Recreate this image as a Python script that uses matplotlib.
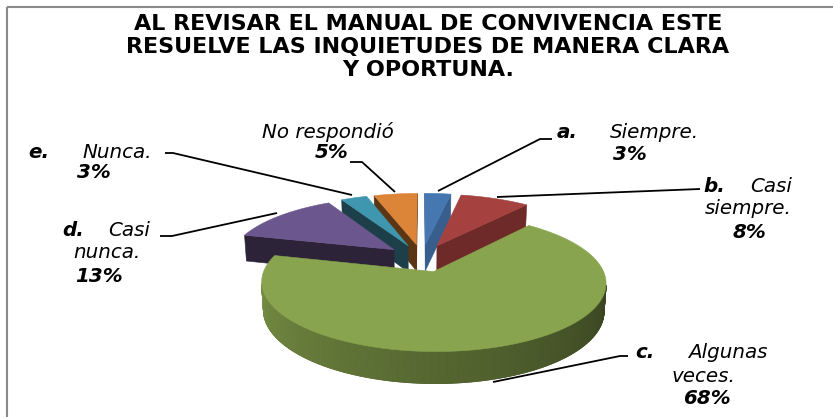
import numpy as np
import matplotlib
matplotlib.use("Agg")
import matplotlib.pyplot as plt
from matplotlib.patches import Polygon, Rectangle
from matplotlib.colors import to_rgb

# ---------------- data ----------------
letters = ["a.", "b.", "c.", "d.", "e.", ""]
names = ["Siempre.", "Casi siempre.", "Algunas veces.", "Casi nunca.", "Nunca.", "No respondió"]
values = [3, 8, 68, 13, 3, 5]
title = "AL REVISAR EL MANUAL DE CONVIVENCIA ESTE\nRESUELVE LAS INQUIETUDES DE MANERA CLARA\nY OPORTUNA."

# ---------------- style ----------------
top_colors = ["#4677b0", "#a5413e", "#88a44e", "#6c568e", "#3e97ae", "#dc8437"]
side_colors = ["#375e8d", "#6e2a28", "#55692f", "#2d2339", "#1d3f4a", "#5a3614"]

W, H = 833, 417
fig = plt.figure(figsize=(W / 100, H / 100), dpi=100)
ax = fig.add_axes([0, 0, 1, 1])
ax.set_xlim(0, W)
ax.set_ylim(H, 0)
ax.axis("off")

# frame
ax.add_patch(Rectangle((7, 7), 900, 500, fill=False, edgecolor="#8a8a8a", lw=1.5))

# ---------------- 3D pie projection ----------------
CX, CY = 422, 258
F = 987.0
PHI = np.radians(22.5)
S, C = np.sin(PHI), np.cos(PHI)
D0 = 6.0
HGT = 0.18
EXPL = 0.22
CAM = np.array([0.0, D0 * S, -D0 * C])


def proj(X, Y, Z):
    X = np.asarray(X, float); Y = np.asarray(Y, float); Z = np.asarray(Z, float)
    yc = Y * C + Z * S
    zc = D0 + Z * C - Y * S
    return CX + F * X / zc, CY - F * yc / zc


def poly(pts3, color, z=2, lw=0.4):
    pts3 = np.array(pts3)
    u, v = proj(pts3[:, 0], pts3[:, 1], pts3[:, 2])
    ax.add_patch(Polygon(np.column_stack([u, v]), closed=True, facecolor=color,
                         edgecolor=color, lw=lw, zorder=z))


def visible(normal, point):
    return np.dot(normal, CAM - np.asarray(point)) > 0


def shade(color, k):
    r, g, b = to_rgb(color)
    return (r * k, g * k, b * k)


total = float(sum(values))
bounds = np.concatenate([[0], np.cumsum(values)]) / total * 360.0
slices = []
for i in range(len(values)):
    t1, t2 = bounds[i], bounds[i + 1]
    mid = np.radians((t1 + t2) / 2)
    ex, ez = EXPL * np.sin(mid), EXPL * np.cos(mid)
    slices.append((ez, i, t1, t2, ex))

# draw far slices first
for ez, i, t1, t2, ex in sorted(slices, key=lambda s: -s[0]):
    th = np.radians(np.linspace(t1, t2, max(3, int((t2 - t1) * 2))))
    V = np.array([ex, 0, ez])
    # radial faces
    a1, a2 = np.radians(t1), np.radians(t2)
    for a, sgn in ((a1, -1), (a2, 1)):
        n = np.array([sgn * np.cos(a), 0, -sgn * np.sin(a)])
        if visible(n, V):
            o = np.array([ex + np.sin(a), 0, ez + np.cos(a)])
            poly([V, o, o + [0, -HGT, 0], V + [0, -HGT, 0]], side_colors[i])
    # outer wall
    quads = []
    for j in range(len(th) - 1):
        m = (th[j] + th[j + 1]) / 2
        n = np.array([np.sin(m), 0, np.cos(m)])
        p = np.array([ex + np.sin(m), 0, ez + np.cos(m)])
        if visible(n, p):
            deg = np.degrees(m) % 360
            k = 0.38 + np.clip((deg - 90) / 180.0, 0, 1) * 0.5
            pa = [ex + np.sin(th[j]), 0, ez + np.cos(th[j])]
            pb = [ex + np.sin(th[j + 1]), 0, ez + np.cos(th[j + 1])]
            quads.append((pa, pb, shade(top_colors[i], k)))
    if quads:
        # backing band to hide seams
        tops = [q[0] for q in quads] + [quads[-1][1]]
        band = tops + [[p[0], -HGT, p[2]] for p in tops[::-1]]
        poly(band, shade(top_colors[i], 0.6), z=1.9, lw=0.6)
        for pa, pb, col in quads:
            poly([pa, pb, [pb[0], -HGT, pb[2]], [pa[0], -HGT, pa[2]]], col, lw=0.9)
    # top face
    pts = [V] + [[ex + np.sin(t), 0, ez + np.cos(t)] for t in th]
    poly(pts, top_colors[i], z=3)

# ---------------- title ----------------
ax.text(428, 47, title, ha="center", va="center", fontsize=16, fontweight="bold",
        family="DejaVu Sans", linespacing=1.2, color="black")

# ---------------- labels ----------------
pct = [f"{v}%" for v in values]
label_layout = [
    ((557, 133), [((610, 133), "Siempre.")], (613, 155)),
    ((703, 186), [((750, 186), "Casi"), ((705, 208), "siempre.")], (733, 232)),
    ((635, 352), [((688, 352), "Algunas"), ((672, 377), "veces.")], (683, 398)),
    ((62, 230), [((108, 230), "Casi"), ((73, 253), "nunca.")], (75, 277)),
    ((28, 152), [((82, 152), "Nunca.")], (77, 172)),
    (None, [((262, 132), "No respondió")], (315, 152)),
]
FS = 14.3
for i, (lp, lines, pp) in enumerate(label_layout):
    if lp is not None and letters[i]:
        ax.text(lp[0], lp[1], letters[i], ha="left", va="center", fontsize=FS,
                fontweight="bold", style="italic", family="DejaVu Sans")
    for (x, y), s in lines:
        ax.text(x, y, s, ha="left", va="center", fontsize=FS, style="italic",
                family="DejaVu Sans")
    ax.text(pp[0], pp[1], pct[i], ha="left", va="center", fontsize=FS,
            fontweight="bold", style="italic", family="DejaVu Sans")

# leader lines
leaders = [
    [(552, 139), (540, 139), (438, 191)],
    [(700, 189), (497, 197)],
    [(628, 356), (620, 356), (493, 382)],
    [(160, 236), (172, 236), (277, 213)],
    [(165, 153), (173, 153), (352, 195)],
    [(350, 162), (362, 162), (395, 192)],
]
for L in leaders:
    xs, ys = zip(*L)
    ax.plot(xs, ys, color="black", lw=1.3, zorder=5, solid_capstyle="butt")

fig.savefig("out.png", dpi=100)
